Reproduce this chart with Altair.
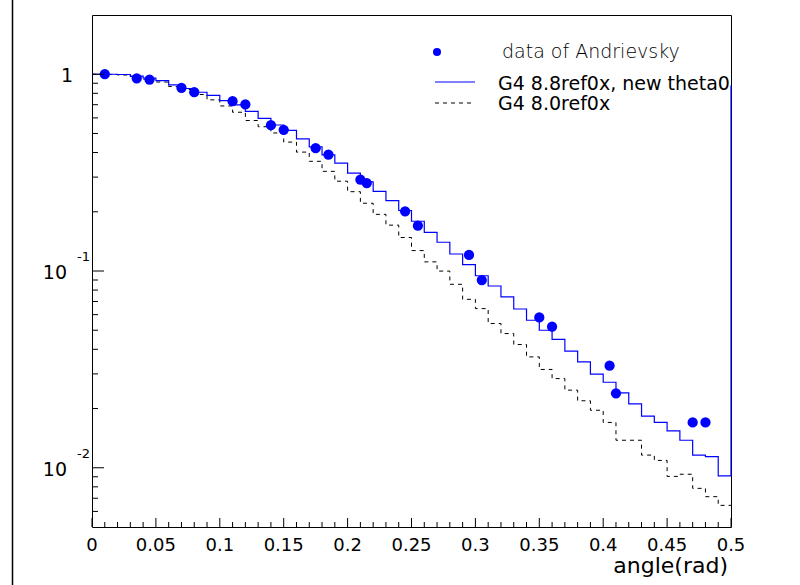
import altair as alt
import pandas as pd

# ---------------- data ----------------
bin_left = [0.00, 0.01, 0.02, 0.03, 0.04, 0.05, 0.06, 0.07, 0.08, 0.09,
            0.10, 0.11, 0.12, 0.13, 0.14, 0.15, 0.16, 0.17, 0.18, 0.19,
            0.20, 0.21, 0.22, 0.23, 0.24, 0.25, 0.26, 0.27, 0.28, 0.29,
            0.30, 0.31, 0.32, 0.33, 0.34, 0.35, 0.36, 0.37, 0.38, 0.39,
            0.40, 0.41, 0.42, 0.43, 0.44, 0.45, 0.46, 0.47, 0.48, 0.49]
x_end = 0.5

g4_88 = [1.000, 1.000, 0.997, 0.979, 0.957, 0.929, 0.882, 0.846, 0.810, 0.780,
         0.735, 0.698, 0.647, 0.596, 0.552, 0.518, 0.469, 0.427, 0.389, 0.353,
         0.314, 0.284, 0.254, 0.228, 0.203, 0.179, 0.157, 0.140, 0.122, 0.1077,
         0.0946, 0.0839, 0.0738, 0.0641, 0.0562, 0.0500, 0.0449, 0.0392, 0.0345, 0.0299,
         0.0272, 0.0240, 0.0211, 0.0183, 0.0170, 0.0154, 0.0138, 0.0116, 0.0114, 0.0091]
g4_88_edge_top = 0.876

g4_80 = [1.000, 0.997, 0.991, 0.973, 0.945, 0.913, 0.866, 0.836, 0.789, 0.741,
         0.690, 0.641, 0.582, 0.541, 0.503, 0.452, 0.402, 0.361, 0.321, 0.286,
         0.253, 0.221, 0.194, 0.171, 0.148, 0.127, 0.1113, 0.0999, 0.0856, 0.0718,
         0.0644, 0.0541, 0.0481, 0.0423, 0.0366, 0.0316, 0.0284, 0.0248, 0.0219, 0.0196,
         0.0170, 0.0138, 0.0138, 0.0116, 0.0109, 0.00904, 0.00927, 0.00786, 0.00713, 0.00644]

data_angle = [0.010, 0.035, 0.045, 0.070, 0.080, 0.110, 0.120, 0.140, 0.150, 0.175,
              0.185, 0.210, 0.215, 0.245, 0.255, 0.295, 0.305, 0.350, 0.360, 0.405,
              0.410, 0.470, 0.480]
data_value = [1.000, 0.954, 0.940, 0.853, 0.810, 0.729, 0.702, 0.551, 0.522, 0.421,
              0.390, 0.291, 0.280, 0.201, 0.170, 0.1206, 0.0900, 0.0581, 0.0521, 0.0330,
              0.0239, 0.0170, 0.0170]

x_major = [0.0, 0.05, 0.1, 0.15, 0.2, 0.25, 0.3, 0.35, 0.4, 0.45, 0.5]
x_major_labels = ["0", "0.05", "0.1", "0.15", "0.2", "0.25", "0.3", "0.35", "0.4", "0.45", "0.5"]
x_minor = [0.01, 0.02, 0.03, 0.04, 0.06, 0.07, 0.08, 0.09, 0.11, 0.12, 0.13, 0.14,
           0.16, 0.17, 0.18, 0.19, 0.21, 0.22, 0.23, 0.24, 0.26, 0.27, 0.28, 0.29,
           0.31, 0.32, 0.33, 0.34, 0.36, 0.37, 0.38, 0.39, 0.41, 0.42, 0.43, 0.44,
           0.46, 0.47, 0.48, 0.49]
y_major = [1.0, 0.1, 0.01]
y_minor = [0.006, 0.007, 0.008, 0.009,
           0.02, 0.03, 0.04, 0.05, 0.06, 0.07, 0.08, 0.09,
           0.2, 0.3, 0.4, 0.5, 0.6, 0.7, 0.8, 0.9]
y_decade_labels = ["10", "10"]
y_decade_values = [0.1, 0.01]
y_decade_sup = ["-1", "-2"]

legend_labels = ["data of Andrievsky", "G4 8.8ref0x, new theta0", "G4 8.0ref0x"]
x_title = "angle(rad)"

BLUE = "#0000ff"
FONT = "DejaVu Sans"

# ---------------- tables ----------------
def hist_table(vals, extra_top=None):
    rows = [{"x": bx, "y": v, "i": k} for k, (bx, v) in enumerate(zip(bin_left, vals))]
    rows.append({"x": x_end, "y": vals[-1], "i": len(rows)})
    if extra_top is not None:
        rows.append({"x": x_end, "y": extra_top, "i": len(rows)})
    return pd.DataFrame(rows)

h88 = hist_table(g4_88, g4_88_edge_top)
h80 = hist_table(g4_80)
pts = pd.DataFrame({"x": data_angle, "y": data_value})

xs = alt.Scale(domain=[0, 0.5], nice=False, zero=False)
ys = alt.Scale(type="log", domain=[0.005, 2], nice=False)

X = lambda f="x": alt.X(f"{f}:Q", scale=xs, axis=None)
Y = lambda f="y": alt.Y(f"{f}:Q", scale=ys, axis=None)

line88 = alt.Chart(h88).mark_line(interpolate="step-after", color=BLUE, strokeWidth=1.2).encode(
    x=X(), y=Y(), order="i:Q")
line80 = alt.Chart(h80).mark_line(interpolate="step-after", color="black", strokeWidth=1,
                                  strokeDash=[4, 4]).encode(x=X(), y=Y(), order="i:Q")
points = alt.Chart(pts).mark_circle(size=105, color=BLUE, opacity=1).encode(x=X(), y=Y())

# ticks (ROOT style, pointing inward)
H = 512
xmaj_df = pd.DataFrame({"x": x_major, "t": x_major_labels})
xmaj_t = alt.Chart(xmaj_df).mark_rule(color="black", strokeWidth=1).encode(
    x=X(), y=alt.value(H), y2=alt.value(H - 9))
xmin_t = alt.Chart(pd.DataFrame({"x": x_minor})).mark_rule(color="black", strokeWidth=1).encode(
    x=X(), y=alt.value(H), y2=alt.value(H - 5))
ymaj_t = alt.Chart(pd.DataFrame({"y": y_major})).mark_rule(color="black", strokeWidth=1).encode(
    y=Y(), x=alt.value(0), x2=alt.value(12))
ymin_t = alt.Chart(pd.DataFrame({"y": y_minor})).mark_rule(color="black", strokeWidth=1).encode(
    y=Y(), x=alt.value(0), x2=alt.value(6))

# labels
xlab = alt.Chart(xmaj_df).mark_text(font=FONT, fontSize=18, align="center", baseline="alphabetic",
                                    color="black").encode(x=X(), y=alt.value(536), text="t:N")
one_lab = alt.Chart(pd.DataFrame({"y": [1.0], "t": ["1"]})).mark_text(
    font=FONT, fontSize=19, align="right", baseline="alphabetic", dy=8, color="black").encode(
    y=Y(), x=alt.value(-19), text="t:N")
dec_df = pd.DataFrame({"y": y_decade_values, "t": y_decade_labels, "s": y_decade_sup})
dec_lab = alt.Chart(dec_df).mark_text(
    font=FONT, fontSize=19, align="right", baseline="alphabetic", dy=8, color="black").encode(
    y=Y(), x=alt.value(-25), text="t:N")
sup_lab = alt.Chart(dec_df).mark_text(
    font=FONT, fontSize=13, align="left", baseline="alphabetic", dy=-10, color="black").encode(
    y=Y(), x=alt.value(-15), text="s:N")
xtitle = alt.Chart(pd.DataFrame({"t": [x_title]})).mark_text(
    font=FONT, fontSize=22, align="right", baseline="alphabetic", color="black").encode(
    x=alt.value(636), y=alt.value(558), text="t:N")

# legend
leg_dot = alt.Chart(pd.DataFrame({"k": [0]})).mark_circle(size=65, color=BLUE, opacity=1).encode(
    x=alt.value(345), y=alt.value(37))
leg_t1 = alt.Chart(pd.DataFrame({"t": [legend_labels[0]]})).mark_text(
    font=FONT, fontSize=19, fontWeight=200, align="left", baseline="alphabetic", color="black").encode(
    x=alt.value(410), y=alt.value(43), text="t:N")
leg_l2 = alt.Chart(pd.DataFrame({"k": [0]})).mark_rule(color=BLUE, strokeWidth=1.2).encode(
    x=alt.value(343), x2=alt.value(383), y=alt.value(67))
leg_t2 = alt.Chart(pd.DataFrame({"t": [legend_labels[1]]})).mark_text(
    font=FONT, fontSize=19, align="left", baseline="alphabetic", color="black").encode(
    x=alt.value(406), y=alt.value(75), text="t:N")
leg_l3 = alt.Chart(pd.DataFrame({"k": [0]})).mark_rule(color="black", strokeWidth=1,
                                                        strokeDash=[4, 4]).encode(
    x=alt.value(343), x2=alt.value(383), y=alt.value(88))
leg_t3 = alt.Chart(pd.DataFrame({"t": [legend_labels[2]]})).mark_text(
    font=FONT, fontSize=19, align="left", baseline="alphabetic", color="black").encode(
    x=alt.value(406), y=alt.value(95), text="t:N")

# canvas border line at left
border = alt.Chart(pd.DataFrame({"k": [0]})).mark_rule(color="black", strokeWidth=1.5).encode(
    x=alt.value(-79.5), y=alt.value(-15), y2=alt.value(570))

chart = alt.layer(
    line80, line88, points,
    xmaj_t, xmin_t, ymaj_t, ymin_t,
    xlab, one_lab, dec_lab, sup_lab, xtitle,
    leg_dot, leg_t1, leg_l2, leg_t2, leg_l3, leg_t3,
    border,
).properties(
    width=639, height=512,
    autosize=alt.AutoSizeParams(type="none"),
    padding={"left": 92, "top": 15, "right": 69, "bottom": 58},
    background="white",
).configure_view(stroke="black", strokeWidth=1)

chart.save("out.html", embed_options={"renderer": "svg", "actions": False})
